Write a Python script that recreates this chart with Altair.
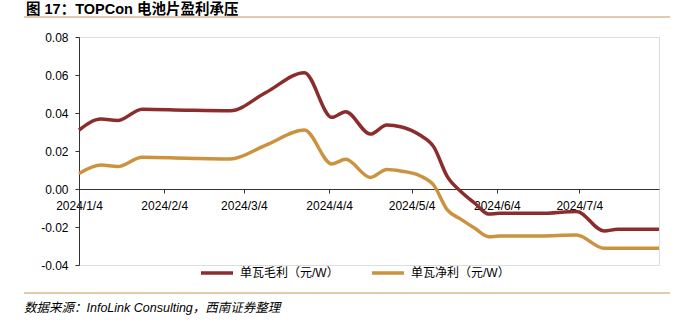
import altair as alt
import pandas as pd

dates = [
    "2024-01-04", "2024-01-12", "2024-01-18", "2024-01-27", "2024-02-12", "2024-02-28",
    "2024-03-12", "2024-03-26", "2024-04-05", "2024-04-10", "2024-04-19", "2024-04-25",
    "2024-04-30", "2024-05-07", "2024-05-12", "2024-05-17", "2024-05-22", "2024-05-27",
    "2024-06-01", "2024-06-05", "2024-06-20", "2024-07-03", "2024-07-13", "2024-07-18",
    "2024-08-02",
]
gross = [
    0.0310, 0.0368, 0.0360, 0.0420, 0.0415, 0.0412,
    0.0508, 0.0612, 0.0377, 0.0407, 0.0289, 0.0337,
    0.0328, 0.0284, 0.0223, 0.0065, -0.0014, -0.0075,
    -0.0132, -0.0128, -0.0128, -0.0119, -0.0221, -0.0212,
    -0.0212,
]
net = [
    0.0082, 0.0126, 0.0118, 0.0167, 0.0162, 0.0158,
    0.0231, 0.0310, 0.0132, 0.0156, 0.0061, 0.0103,
    0.0095, 0.0070, 0.0021, -0.0110, -0.0160, -0.0207,
    -0.0251, -0.0248, -0.0247, -0.0242, -0.0312, -0.0312,
    -0.0312,
]
series_names = ["单瓦毛利（元/W）", "单瓦净利（元/W）"]
series_colors = ["#8B2D2D", "#CB9340"]
tick_dates = ["2024-01-04", "2024-02-04", "2024-03-04", "2024-04-04",
              "2024-05-04", "2024-06-04", "2024-07-04"]
y_ticks = [-0.04, -0.02, 0.0, 0.02, 0.04, 0.06, 0.08]

title_text = "图 17：TOPCon 电池片盈利承压"
source_text = "数据来源：InfoLink Consulting，西南证券整理"

rows = []
for d, g, n in zip(dates, gross, net):
    rows.append({"date": d, "value": g, "series": series_names[0]})
    rows.append({"date": d, "value": n, "series": series_names[1]})
df = pd.DataFrame(rows)

def dt(s):
    y, m, d = (int(p) for p in s.split("-"))
    return alt.DateTime(year=y, month=m, date=d, utc=True)

W, H = 580, 228
FONT = "Liberation Sans, Noto Sans CJK SC"

lines = alt.Chart(df).mark_line(strokeWidth=3.5, interpolate="monotone").encode(
    x=alt.X("date:T",
            scale=alt.Scale(type="utc", domain=[dt("2024-01-04"), dt("2024-08-02")]),
            axis=alt.Axis(values=[dt(s) for s in tick_dates],
                          labelExpr="utcFormat(datum.value, '%Y/%-m/%-d')",
                          title=None, orient="bottom", offset=-76,
                          grid=False, tickSize=4, labelPadding=7,
                          labelFontSize=12, labelFont=FONT, labelColor="#000",
                          domainColor="#333", tickColor="#333",
                          labelOverlap=False, labelFlush=False)),
    y=alt.Y("value:Q",
            scale=alt.Scale(domain=[-0.04, 0.08], nice=False, zero=False),
            axis=alt.Axis(values=y_ticks, title=None, grid=False, tickSize=4,
                          labelPadding=7, labelFontSize=12, labelFont=FONT,
                          labelColor="#000", domainColor="#333", tickColor="#333",
                          labelExpr="replace(format(datum.value, '.2f'), '\u2212', '-')")),
    color=alt.Color("series:N",
                    scale=alt.Scale(domain=series_names, range=series_colors),
                    legend=alt.Legend(title=None, orient="none", legendX=120, legendY=218,
                                      direction="horizontal", columns=2,
                                      symbolType="stroke", symbolSize=1024,
                                      symbolStrokeWidth=3.5, labelFontSize=12,
                                      labelFont=FONT, labelColor="#000",
                                      labelOffset=5, columnPadding=26,
                                      labelLimit=200)),
)

deco_df = pd.DataFrame({"k": [0]})
top_rule = alt.Chart(deco_df).mark_rule(color="#C9955A", strokeWidth=1.2).encode(
    x=alt.value(-55), x2=alt.value(591), y=alt.value(-20))
bottom_rule = alt.Chart(deco_df).mark_rule(color="#C9955A", strokeWidth=1.2).encode(
    x=alt.value(-55), x2=alt.value(591), y=alt.value(256))
title = alt.Chart(deco_df).mark_text(
    text=title_text, align="left", baseline="alphabetic", fontSize=14.5,
    fontWeight="bold", font=FONT, color="#000").encode(
    x=alt.value(-53), y=alt.value(-23))
source = alt.Chart(deco_df).mark_text(
    text=source_text, align="left", baseline="middle", fontSize=12.5,
    fontStyle="italic", font=FONT, color="#000").encode(
    x=alt.value(-55), y=alt.value(271))

chart = alt.layer(lines, top_rule, bottom_rule, title, source).properties(
    width=W, height=H,
    autosize=alt.AutoSizeParams(type="none"),
    padding={"left": 79, "top": 37, "right": 35, "bottom": 58},
).configure_view(stroke=None).configure(background="white")

chart.save("out.html", embed_options={"renderer": "svg", "actions": False})
